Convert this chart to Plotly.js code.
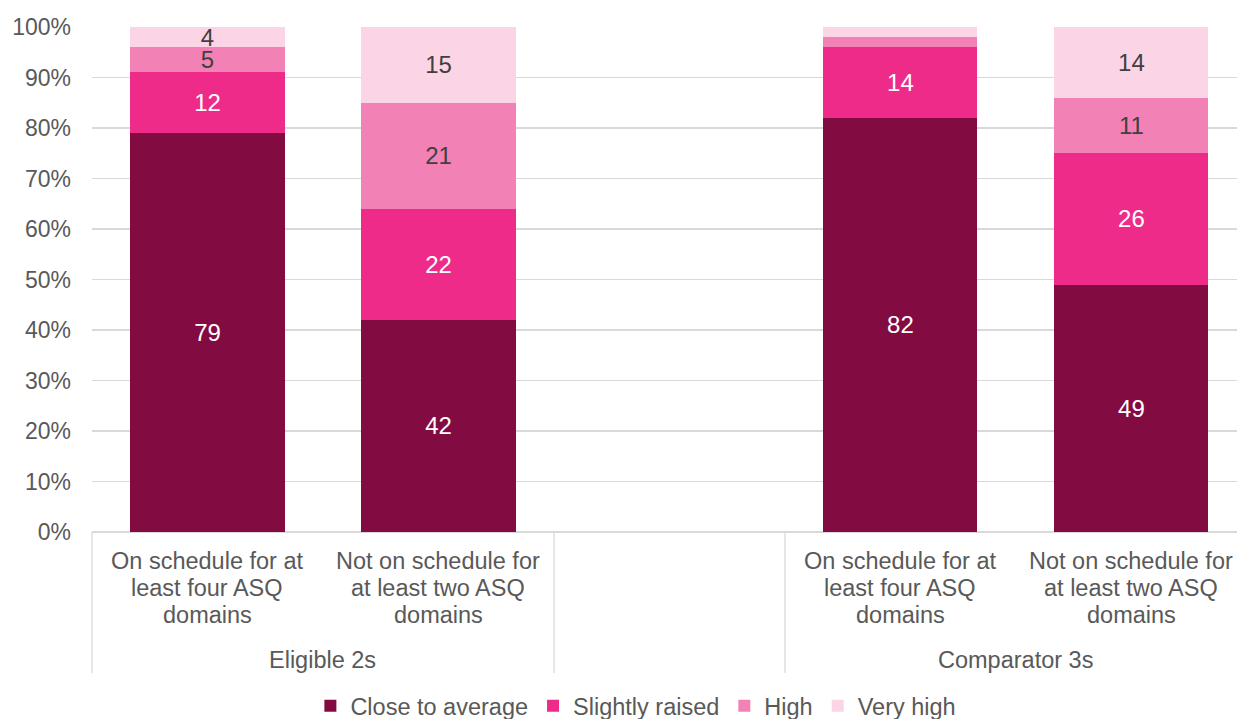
<!DOCTYPE html>
<html>
<head>
<meta charset="utf-8">
<script src="https://cdn.plot.ly/plotly-3.0.1.min.js"></script>
<style>html,body{margin:0;padding:0;overflow:hidden;background:#fff;width:1237px;height:719px}</style>
</head>
<body>
<div id="chart" style="width:1237px;height:728px"></div>
<script>
// ---- data ----
const categories = [
  "On schedule for at<br>least four ASQ<br>domains",
  "Not on schedule for<br>at least two ASQ<br>domains",
  "On schedule for at<br>least four ASQ<br>domains",
  "Not on schedule for<br>at least two ASQ<br>domains"
];
const groups = ["Eligible 2s", "Eligible 2s", "Comparator 3s", "Comparator 3s"];
const groupNames = ["Eligible 2s", "Comparator 3s"];
const slots = [0, 1, 3, 4]; // slot 2 is an empty gap between groups

const closeToAverage = [79, 42, 82, 49];
const slightlyRaised = [12, 22, 14, 26];
const high = [5, 21, 2, 11];
const veryHigh = [4, 15, 2, 14];
const hiddenLabels = [false, false, true, false]; // small values without label

const seriesNames = ["Close to average", "Slightly raised", "High", "Very high"];
const seriesColors = ["#820C41", "#EE2B89", "#F282B5", "#FBD5E6"];
const labelColors = ["#FFFFFF", "#FFFFFF", "#404040", "#404040"];
const seriesValues = [closeToAverage, slightlyRaised, high, veryHigh];

// ---- chart ----
const FONT = "Liberation Sans, Arial, sans-serif";
const TEXT = "#595959";
const H = 728, MT = 27, MB = H - 532, PH = H - MT - MB;
const xMin = -0.5, xMax = 4.457;
const toPaper = v => (v - xMin) / (xMax - xMin);
const pyOf = px => (532 - px) / PH; // pixel row -> paper y

const traces = seriesValues.map((vals, i) => ({
  type: "bar",
  name: seriesNames[i],
  x: slots,
  y: vals,
  width: 0.667,
  marker: { color: seriesColors[i], line: { width: 0 } },
  text: vals.map((v, j) => (i >= 2 && hiddenLabels[j]) ? "" : String(v)),
  textposition: "inside",
  insidetextanchor: "middle",
  constraintext: "none",
  textangle: 0,
  textfont: { family: FONT, size: 24, color: labelColors[i] },
  hoverinfo: "skip"
}));

const annotations = [];
const lineRows = [561, 588, 615];
categories.forEach((c, j) => {
  c.split("<br>").forEach((ln, k) => {
    annotations.push({
      xref: "paper", yref: "paper", x: toPaper(slots[j]), y: pyOf(lineRows[k]),
      xanchor: "center", yanchor: "middle", showarrow: false,
      text: ln, font: { family: FONT, size: 23.5, color: TEXT }
    });
  });
});
groupNames.forEach(g => {
  const idx = slots.filter((s, j) => groups[j] === g);
  const mid = (Math.min(...idx) + Math.max(...idx)) / 2;
  annotations.push({
    xref: "paper", yref: "paper", x: toPaper(mid), y: pyOf(660),
    xanchor: "center", yanchor: "middle", showarrow: false,
    text: g, font: { family: FONT, size: 23.5, color: TEXT }
  });
});

const sepLines = [-0.5, 1.5, 2.5].map(v => ({
  type: "line", xref: "paper", yref: "paper",
  x0: toPaper(v), x1: toPaper(v), y0: 0, y1: pyOf(673),
  line: { color: "#D9D9D9", width: 1.3 }
}));

const layout = {
  width: 1237, height: H,
  margin: { l: 92, r: 0, t: MT, b: MB },
  paper_bgcolor: "#FFFFFF", plot_bgcolor: "#FFFFFF",
  barmode: "stack",
  font: { family: FONT, color: TEXT },
  xaxis: {
    range: [xMin, xMax], showticklabels: false, showgrid: false,
    zeroline: false, ticks: "", fixedrange: true
  },
  yaxis: {
    range: [0, 100], dtick: 10, ticksuffix: "%",
    showgrid: true, gridcolor: "#D9D9D9", gridwidth: 1.3,
    zeroline: true, zerolinecolor: "#D9D9D9", zerolinewidth: 1.3,
    tickfont: { family: FONT, size: 23, color: TEXT },
    ticklabelstandoff: 20, fixedrange: true
  },
  showlegend: true,
  legend: {
    orientation: "h", traceorder: "normal",
    x: 0.475, xanchor: "center",
    yref: "container", y: 0, yanchor: "bottom",
    font: { family: FONT, size: 23.5, color: TEXT },
    itemwidth: 30
  },
  annotations: annotations,
  shapes: sepLines
};

Plotly.newPlot("chart", traces, layout, { displayModeBar: false, staticPlot: true });
</script>
</body>
</html>
